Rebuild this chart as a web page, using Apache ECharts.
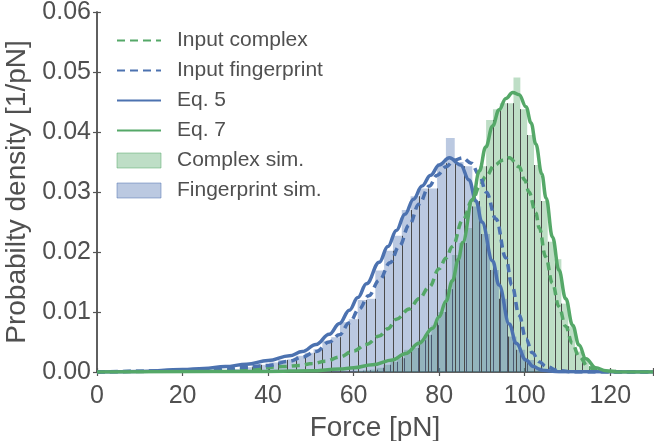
<!DOCTYPE html>
<html>
<head>
<meta charset="utf-8">
<script src="https://cdn.jsdelivr.net/npm/echarts@6/dist/echarts.min.js"></script>
<style>
html,body{margin:0;padding:0;background:#fff;}
#chart{width:654px;height:441px;}
</style>
</head>
<body>
<div id="chart"></div>
<script>
// ---------- data ----------
var xTicks = [0, 20, 40, 60, 80, 100, 120];
var yTicks = [0.00, 0.01, 0.02, 0.03, 0.04, 0.05, 0.06];

// Fingerprint simulation histogram (bin edges in pN, density per bin)
var fingerprintEdges = [30.00, 32.06, 34.13, 36.19, 38.25, 40.32, 42.38, 44.44, 46.50, 48.57,
  50.63, 52.69, 54.76, 56.82, 58.88, 60.95, 63.01, 65.07, 67.13, 69.20,
  71.26, 73.32, 75.39, 77.45, 79.51, 81.58, 83.64, 85.70, 87.76, 89.83,
  91.89, 93.95, 96.02, 98.08, 100.14, 102.21, 104.27, 106.33];
var fingerprintDensity = [0.0003, 0.0005, 0.0008, 0.0012, 0.0012, 0.0016, 0.0020, 0.0021, 0.0027, 0.0032,
  0.0038, 0.0052, 0.0058, 0.0083, 0.0088, 0.0120, 0.0122, 0.0169, 0.0202, 0.0227,
  0.0270, 0.0293, 0.0306, 0.0306, 0.0348, 0.0390, 0.0350, 0.0343, 0.0276, 0.0230,
  0.0170, 0.0122, 0.0059, 0.0037, 0.0020, 0.0008, 0.0003];

// Complex simulation histogram
var complexEdges = [60.58, 62.18, 63.78, 65.38, 66.98, 68.58, 70.18, 71.78, 73.38, 74.98,
  76.58, 78.18, 79.78, 81.38, 82.98, 84.58, 86.18, 87.78, 89.38, 90.98,
  92.58, 94.18, 95.78, 97.38, 98.98, 100.58, 102.18, 103.78, 105.38, 106.98,
  108.58, 110.18, 111.78, 113.38, 114.98, 116.58, 118.18, 119.78, 121.38];
var complexDensity = [0.0002, 0.0003, 0.0004, 0.0007, 0.0012, 0.0017, 0.0023, 0.0037, 0.0040, 0.0053,
  0.0062, 0.0078, 0.0100, 0.0138, 0.0195, 0.0215, 0.0240, 0.0285, 0.0343, 0.0420,
  0.0438, 0.0448, 0.0448, 0.0491, 0.0438, 0.0395, 0.0345, 0.0285, 0.0217, 0.0188,
  0.0114, 0.0076, 0.0034, 0.0020, 0.0009, 0.0005, 0.0000, 0.0005];

// Curves [force pN, density]
var inputComplex = [[0,0],[30,0.0002],[37,0.0006],[43.4,0.0009],[47.3,0.0011],[50.4,0.0014],[53.5,0.0018],
  [56.7,0.0025],[60,0.0035],[63,0.0046],[66,0.006],[68,0.0072],[70,0.0088],[73,0.0105],[75.3,0.0122],
  [77.7,0.0142],[80,0.0172],[81.6,0.019],[83.1,0.0209],[85.5,0.0253],[87.8,0.0287],[89.5,0.031],
  [90.9,0.0326],[93,0.0345],[94.8,0.0353],[96.4,0.0357],[98.7,0.0342],[100,0.032],[101,0.030],
  [102.6,0.0265],[103.4,0.024],[104.9,0.0192],[106.5,0.0148],[108,0.0109],[109.6,0.0076],
  [111.1,0.0048],[112.7,0.0026],[115,0.0007],[118,0.0001],[122,0],[130,0]];
var inputFingerprint = [[0,0],[20,0.0002],[29.3,0.0005],[35,0.0008],[40,0.0011],[45,0.0018],[48,0.0025],
  [51.2,0.0034],[54.3,0.005],[56.7,0.0062],[59,0.0082],[61.3,0.0105],[63.5,0.0127],[66,0.0153],
  [68.5,0.0182],[70.7,0.021],[73,0.0245],[75.3,0.028],[77.7,0.031],[79.5,0.0328],[81.6,0.0342],
  [83.5,0.0353],[85.5,0.0357],[87.5,0.0348],[89.4,0.0328],[91,0.03],[93.3,0.0255],[95.6,0.019],
  [97,0.0145],[98.7,0.0095],[100.3,0.0055],[101.8,0.0032],[103.4,0.0017],[105,0.0009],[108,0.0002],
  [112,0],[130,0]];
var eq5 = [[0,0],[10,0.0001],[20,0.0004],[25,0.0006],[30,0.0009],[35,0.0013],[40,0.0019],[45,0.0027],
  [48,0.0034],[51.2,0.0046],[54.3,0.0063],[56.7,0.0081],[59,0.0103],[61,0.0124],[63,0.0147],
  [66,0.0183],[68,0.0209],[70,0.0236],[72,0.0263],[74,0.0288],[76,0.031],[78,0.0328],[80,0.0345],
  [82.4,0.0357],[85,0.0345],[87,0.032],[88.6,0.0285],[90,0.025],[92.5,0.0185],[94,0.0145],[96.4,0.008],
  [98,0.0048],[100.3,0.002],[102,0.0009],[104,0.0003],[108,0.00003],[130,0]];
var eq7 = [[0,0],[40,0.0001],[50,0.0002],[56.7,0.0005],[60,0.0007],[64.4,0.0012],[69.1,0.002],[72.2,0.0031],
  [75.3,0.0048],[78.5,0.0073],[80,0.0092],[81.6,0.0118],[83.1,0.0152],[84.5,0.0188],[85.5,0.0216],
  [87.8,0.0287],[89.4,0.0335],[90.9,0.0375],[92.5,0.041],[94,0.0437],[95.6,0.0456],[97.2,0.0466],
  [98.7,0.0462],[100.3,0.0442],[101.5,0.0415],[102.6,0.038],[104,0.033],[105,0.029],[106.5,0.0225],
  [108,0.017],[109.6,0.0122],[111.2,0.0078],[112.7,0.0045],[114.3,0.0022],[116.6,0.0007],[119,0.0002],
  [122,0],[130,0]];

// ---------- styling ----------
var GREEN = '#55a868';
var BLUE = '#4c72b0';
var GREEN_FILL = 'rgba(85,168,104,0.38)';
var BLUE_FILL = 'rgba(76,114,176,0.38)';
var EDGE = '#4a4a4a';
var TXT = '#505050';
var FONT = '"Liberation Sans", Arial, Helvetica, sans-serif';

function histData(edges, dens) {
  var out = [];
  for (var i = 0; i < dens.length; i++) out.push([edges[i], edges[i + 1], dens[i]]);
  return out;
}
function histRender(dens, fill) {
  return function (params, api) {
    var i = params.dataIndex;
    var x0 = api.value(0), x1 = api.value(1), h = api.value(2);
    var pb = api.coord([x0, 0]);
    var pt = api.coord([x1, h]);
    var children = [];
    if (h > 0) {
      children.push({
        type: 'rect',
        shape: {x: pb[0], y: pt[1], width: pt[0] - pb[0], height: pb[1] - pt[1]},
        style: {fill: fill}
      });
    }
    var prev = i > 0 ? dens[i - 1] : 0;
    var lh = Math.min(prev, h);
    if (lh > 0) {
      var pl = api.coord([x0, lh]);
      var xx = Math.round(pb[0]) + 0.5;
      children.push({
        type: 'line',
        shape: {x1: xx, y1: pb[1], x2: xx, y2: pl[1]},
        style: {stroke: EDGE, lineWidth: 1}
      });
    }
    return {type: 'group', children: children};
  };
}

var chart = echarts.init(document.getElementById('chart'), null, {renderer: 'canvas'});
var axisCommon = {
  type: 'value',
  splitLine: {show: false},
  axisLine: {show: true, lineStyle: {color: '#555', width: 1.5}},
  axisTick: {show: true, inside: true, length: 4, lineStyle: {color: '#555', width: 1.2}}
};
var hideSym = {opacity: 0};
chart.setOption({
  animation: false,
  backgroundColor: '#fff',
  textStyle: {fontFamily: FONT},
  grid: {left: 97, right: 1, top: 12, bottom: 69, containLabel: false, outerBoundsMode: 'none'},
  legend: {
    orient: 'vertical',
    left: 116,
    top: 30,
    padding: 0,
    itemWidth: 44,
    itemHeight: 15,
    itemGap: 9,
    textStyle: {fontSize: 21, color: TXT, fontFamily: FONT, padding: [0, 0, 0, 11]},
    data: [
      {name: 'Input complex', itemStyle: hideSym},
      {name: 'Input fingerprint', itemStyle: hideSym},
      {name: 'Eq. 5', itemStyle: hideSym},
      {name: 'Eq. 7', itemStyle: hideSym},
      {name: 'Complex sim.', icon: 'rect', itemStyle: {color: GREEN_FILL, borderColor: 'rgba(85,168,104,0.5)', borderWidth: 1}},
      {name: 'Fingerprint sim.', icon: 'rect', itemStyle: {color: BLUE_FILL, borderColor: 'rgba(76,114,176,0.5)', borderWidth: 1}}
    ]
  },
  xAxis: [
    Object.assign({}, axisCommon, {
      min: 0, max: 130, interval: 20,
      name: 'Force [pN]', nameLocation: 'middle', nameGap: 38,
      nameTextStyle: {fontSize: 28, color: TXT, fontFamily: FONT},
      axisLabel: {fontSize: 25, color: TXT, margin: 12, fontFamily: FONT,
        formatter: function (v) { return xTicks.indexOf(v) >= 0 ? String(v) : ''; }}
    }),
    Object.assign({}, axisCommon, {
      position: 'top', min: 0, max: 130, interval: 20,
      axisLabel: {show: false}
    })
  ],
  yAxis: [
    Object.assign({}, axisCommon, {
      min: 0, max: 0.06, interval: 0.01,
      name: 'Probabilty density [1/pN]', nameLocation: 'middle', nameGap: 56, nameRotate: 90,
      nameTextStyle: {fontSize: 28, color: TXT, fontFamily: FONT},
      axisLabel: {fontSize: 25, color: TXT, margin: 6, fontFamily: FONT,
        formatter: function (v) {
          for (var k = 0; k < yTicks.length; k++) if (Math.abs(yTicks[k] - v) < 1e-9) return yTicks[k].toFixed(2);
          return '';
        }}
    }),
    Object.assign({}, axisCommon, {
      position: 'right', min: 0, max: 0.06, interval: 0.01,
      axisLabel: {show: false}
    })
  ],
  series: [
    {
      name: 'Complex sim.', type: 'custom', clip: true, z: 1,
      itemStyle: {color: GREEN_FILL},
      encode: {x: [0, 1], y: 2},
      data: histData(complexEdges, complexDensity),
      renderItem: histRender(complexDensity, GREEN_FILL)
    },
    {
      name: 'Fingerprint sim.', type: 'custom', clip: true, z: 2,
      itemStyle: {color: BLUE_FILL},
      encode: {x: [0, 1], y: 2},
      data: histData(fingerprintEdges, fingerprintDensity),
      renderItem: histRender(fingerprintDensity, BLUE_FILL)
    },
    {
      name: 'Input complex', type: 'line', z: 3, symbol: 'none', smooth: 0.4, smoothMonotone: 'x',
      data: inputComplex, itemStyle: {color: GREEN},
      lineStyle: {color: GREEN, width: 3.5, type: [8, 5]}
    },
    {
      name: 'Input fingerprint', type: 'line', z: 3, symbol: 'none', smooth: 0.4, smoothMonotone: 'x',
      data: inputFingerprint, itemStyle: {color: BLUE},
      lineStyle: {color: BLUE, width: 3.5, type: [8, 5]}
    },
    {
      name: 'Eq. 5', type: 'line', z: 4, symbol: 'none', smooth: 0.4, smoothMonotone: 'x',
      data: eq5, itemStyle: {color: BLUE},
      lineStyle: {color: BLUE, width: 3.5}
    },
    {
      name: 'Eq. 7', type: 'line', z: 4, symbol: 'none', smooth: 0.4, smoothMonotone: 'x',
      data: eq7, itemStyle: {color: GREEN},
      lineStyle: {color: GREEN, width: 3.5}
    }
  ]
});
</script>
</body>
</html>
